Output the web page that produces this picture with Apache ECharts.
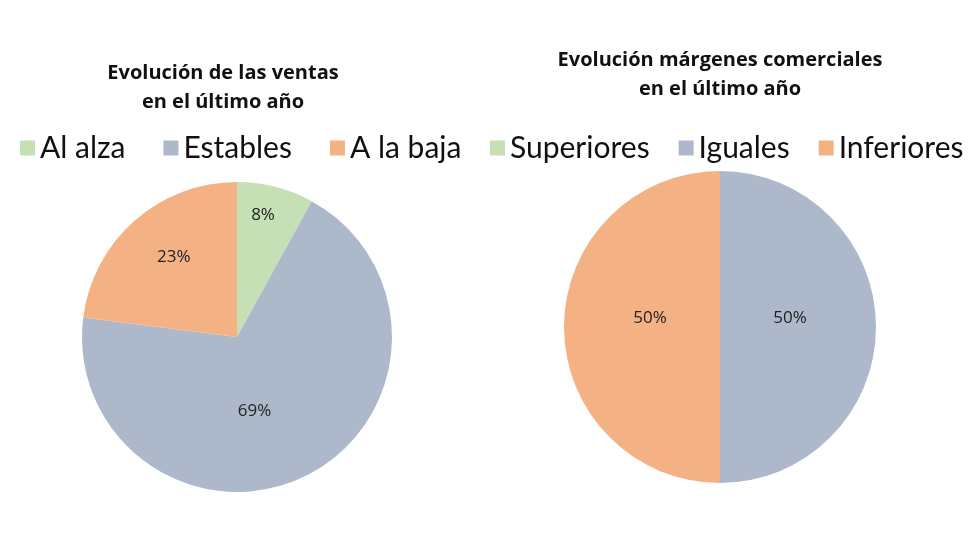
<!DOCTYPE html>
<html>
<head>
<meta charset="utf-8">
<script src="https://cdn.jsdelivr.net/npm/echarts@6/dist/echarts.min.js"></script>
<style>
  html, body { margin: 0; padding: 0; background: #fff; }
  #main { width: 980px; height: 560px; }
</style>
</head>
<body>
<div id="main"></div>
<script>
// datos
var ventasCats = ['Al alza', 'Estables', 'A la baja'];
var ventasVals = [8, 69, 23];
var margenCats = ['Superiores', 'Iguales', 'Inferiores'];
var margenVals = [0, 50, 50];
var colores = ['#c5e0b4', '#adb9ca', '#f4b183'];

// desplazamiento de etiquetas (como en el original)
var ventasOffsets = [[6, -44], [-19, 2], [-10, -19]];
var margenOffsets = [[0, 0], [-11, -9], [11, -9]];

var chart = echarts.init(document.getElementById('main'));

function pieData(cats, vals, offs) {
  return cats.map(function (c, i) {
    return { name: c, value: vals[i], label: { offset: offs[i] } };
  });
}

var titleStyle = {
  fontFamily: 'Open Sans',
  fontWeight: 'bold',
  fontSize: 20,
  color: '#111',
  lineHeight: 29
};

var legendText = { fontFamily: 'Lato', fontSize: 30, color: '#111' };

chart.setOption({
  backgroundColor: '#fff',
  color: colores,
  animation: false,
  title: [
    { text: 'Evolución de las ventas\nen el último año', left: 218, top: 54, textAlign: 'center', textStyle: titleStyle },
    { text: 'Evolución márgenes comerciales\nen el último año', left: 715, top: 41, textAlign: 'center', textStyle: titleStyle }
  ],
  legend: [
    {
      data: ventasCats, left: 15, top: 128, width: 470, icon: 'rect',
      itemWidth: 15, itemHeight: 15, itemGap: 38, textStyle: legendText,
      selectedMode: false
    },
    {
      data: margenCats, left: 485, top: 128, width: 495, icon: 'rect',
      itemWidth: 15, itemHeight: 15, itemGap: 29, textStyle: legendText,
      selectedMode: false
    }
  ],
  series: [
    {
      type: 'pie',
      center: [237, 337],
      radius: [0, 155],
      startAngle: 90,
      clockwise: true,
      silent: true,
      label: {
        position: 'inside',
        formatter: '{c}%',
        fontFamily: 'Open Sans',
        fontSize: 17,
        color: '#222'
      },
      labelLine: { show: false },
      data: pieData(ventasCats, ventasVals, ventasOffsets)
    },
    {
      type: 'pie',
      center: [720, 327],
      radius: [0, 156],
      startAngle: 90,
      clockwise: true,
      silent: true,
      stillShowZeroSum: false,
      label: {
        position: 'inside',
        formatter: function (p) { return p.value > 0 ? p.value + '%' : ''; },
        fontFamily: 'Open Sans',
        fontSize: 17,
        color: '#222'
      },
      labelLine: { show: false },
      data: pieData(margenCats, margenVals, margenOffsets)
    }
  ]
});
</script>
</body>
</html>
